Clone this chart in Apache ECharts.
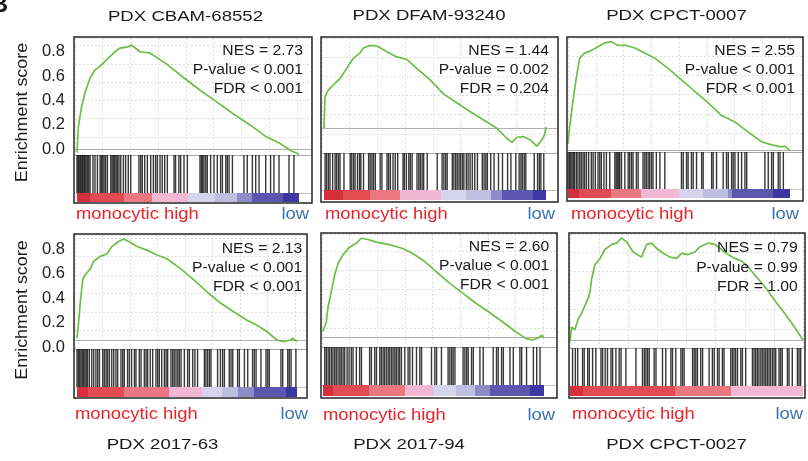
<!DOCTYPE html>
<html><head><meta charset="utf-8">
<script src="https://cdn.jsdelivr.net/npm/echarts/dist/echarts.min.js"></script>
<style>html,body{margin:0;padding:0;background:#fff}#chart{width:808px;height:461px}</style>
</head><body><div id="chart"></div>
<script>
// ---------------- DATA ----------------
const panelTitles = ['PDX CBAM-68552', 'PDX DFAM-93240', 'PDX CPCT-0007', 'PDX 2017-63', 'PDX 2017-94', 'PDX CPCT-0027'];
const nesText = ['NES = 2.73', 'NES = 1.44', 'NES = 2.55', 'NES = 2.13', 'NES = 2.60', 'NES = 0.79'];
const pText = ['P-value < 0.001', 'P-value = 0.002', 'P-value < 0.001', 'P-value < 0.001', 'P-value < 0.001', 'P-value = 0.99'];
const fdrText = ['FDR < 0.001', 'FDR = 0.204', 'FDR < 0.001', 'FDR < 0.001', 'FDR < 0.001', 'FDR = 1.00'];
const esTickLabels = ['0.0', '0.2', '0.4', '0.6', '0.8'];
const yTitle = 'Enrichment score';
const highLabel = 'monocytic high';
const lowLabel = 'low';

// running enrichment score: rank position (% of ranked list) and ES
const rank1 = [0, 0.6, 2.1, 3.6, 5.8, 8.1, 10.3, 12.6, 14.8, 17.1, 19.3, 23.1, 24.6, 28.3, 32.8, 40.3, 47.8, 55.3, 62.8, 70.3, 77.8, 85.3, 91.3, 95.8, 100];
const es1 = [-0.03, 0.18, 0.35, 0.46, 0.58, 0.65, 0.68, 0.72, 0.76, 0.80, 0.83, 0.84, 0.855, 0.80, 0.79, 0.70, 0.59, 0.485, 0.39, 0.29, 0.20, 0.10, 0.047, -0.008, -0.044];
const rank2 = [0, 0.45, 1.95, 4.2, 7.2, 8.7, 10.2, 11.7, 13.2, 16.2, 17.7, 20, 22.3, 24.5, 28.3, 32.8, 37.3, 41.8, 47.8, 53.8, 59.8, 65.9, 71.9, 77.9, 82.4, 84.7, 86.9, 89.9, 92.9, 95.9, 98.2, 99.4, 100];
const es2 = [0, 0.25, 0.30, 0.34, 0.39, 0.43, 0.47, 0.51, 0.55, 0.59, 0.63, 0.645, 0.65, 0.64, 0.60, 0.56, 0.54, 0.47, 0.38, 0.27, 0.20, 0.13, 0.065, 0, -0.08, -0.11, -0.07, -0.066, -0.09, -0.14, -0.09, -0.05, 0.01];
const rank3 = [0, 0.75, 2.26, 3.76, 5.26, 7.5, 10.5, 13.5, 16.5, 19.5, 22.6, 26.3, 30.1, 34.6, 39.1, 45.1, 51.1, 57.1, 63.2, 69.2, 75.2, 81.2, 87.2, 91.7, 96.2, 97.7, 100];
const es3 = [0.05, 0.18, 0.39, 0.57, 0.72, 0.76, 0.78, 0.81, 0.84, 0.85, 0.82, 0.82, 0.80, 0.76, 0.72, 0.64, 0.55, 0.46, 0.37, 0.27, 0.22, 0.14, 0.065, 0.04, 0.025, 0.03, -0.005];
const rank4 = [0, 0.76, 1.5, 2.7, 3.8, 6.1, 7.6, 10.6, 13.6, 15.9, 18.9, 21.2, 23.5, 27.3, 31.8, 36.4, 40.9, 47, 53, 59.1, 65.2, 71.2, 77.3, 81.8, 86.4, 90.9, 93.9, 97, 98.2, 100];
const es4 = [0.014, 0.15, 0.31, 0.50, 0.53, 0.58, 0.64, 0.68, 0.70, 0.76, 0.80, 0.82, 0.80, 0.76, 0.73, 0.69, 0.66, 0.58, 0.49, 0.39, 0.30, 0.23, 0.16, 0.12, 0.067, 0, -0.014, 0, 0.014, -0.014];
const rank5 = [0, 1.5, 2.26, 3.76, 5.26, 6.77, 9.0, 12.0, 15.0, 17.3, 20.3, 24.1, 30.1, 36.1, 40.6, 45.1, 51.1, 57.1, 63.2, 69.2, 75.2, 81.2, 87.2, 91.7, 94.7, 97.7, 98.5, 100];
const es5 = [0.05, 0.125, 0.24, 0.36, 0.49, 0.58, 0.65, 0.71, 0.74, 0.78, 0.77, 0.75, 0.73, 0.70, 0.66, 0.61, 0.52, 0.43, 0.35, 0.27, 0.20, 0.125, 0.047, -0.005, -0.018, 0, 0.016, 0.008];
const rank6 = [0, 0.7, 2.1, 3.6, 5, 6.4, 7.9, 8.6, 9.3, 10.7, 12.9, 15, 17.9, 20, 22.1, 24.3, 27.1, 30.7, 32.9, 35, 37.1, 40, 42.9, 45.7, 47.9, 50.7, 53.6, 55.7, 59.3, 62.1, 65, 67.9, 70.7, 73.6, 76.4, 79.3, 83.6, 87.9, 92.1, 96.4, 100];
const es6 = [-0.013, 0.10, 0.08, 0.17, 0.21, 0.27, 0.33, 0.38, 0.48, 0.59, 0.64, 0.71, 0.75, 0.76, 0.80, 0.77, 0.69, 0.65, 0.75, 0.76, 0.72, 0.68, 0.65, 0.64, 0.68, 0.67, 0.69, 0.73, 0.76, 0.75, 0.71, 0.67, 0.64, 0.62, 0.575, 0.51, 0.42, 0.31, 0.21, 0.10, 0];

// gene-set hit positions (% of ranked list)
const hits1 = [0, 0.5, 0.9, 1.4, 1.8, 2.3, 2.7, 3.2, 3.6, 4.1, 4.7, 5.3, 5.9, 7.2, 8.1, 9.2, 10.4, 11, 11.6, 12.2, 12.9, 13.7, 15.2, 15.8, 16.4, 17, 17.6, 18.2, 18.9, 19.7, 20.9, 21.9, 23.1, 24.2, 27.9, 28.7, 29.4, 30.5, 31.7, 33.2, 34.4, 35.4, 36.2, 37.4, 38.4, 39.5, 40.7, 43.7, 44.4, 45.9, 46.7, 48.2, 49.7, 55.4, 56, 56.6, 57.2, 58, 58.7, 60.2, 61.7, 63.2, 64.7, 65.5, 67, 67.7, 68.5, 70, 75.2, 76.7, 79, 80.5, 82, 85, 87.2, 88.7, 91, 95.5, 97.7];
const hits2 = [0.5, 1.2, 2, 2.7, 3.9, 5, 5.7, 6.5, 7.2, 9, 11.8, 12.5, 13.3, 14, 15.1, 16, 16.6, 17.8, 20.1, 20.8, 21.6, 22.3, 23.1, 25.3, 26.1, 28.4, 29.1, 29.9, 31.1, 32.1, 33.2, 35.6, 36.2, 37.1, 38.2, 38.9, 39.7, 41.9, 42.7, 43.4, 44.2, 44.9, 46.5, 51, 53.2, 54, 54.8, 55.5, 57.8, 58.5, 59.3, 60, 60.8, 61.5, 62.3, 63, 64.1, 64.9, 65.8, 66.8, 67.9, 69.1, 71.3, 72.1, 72.9, 73.6, 75.1, 76.6, 78.6, 80.4, 82.7, 84.2, 86.4, 87.9, 88.7, 89.4, 90.2, 90.9, 94.7, 96.2, 97, 97.7, 99];
const hits3 = [0, 0.6, 1.2, 1.8, 2.4, 3, 3.8, 4.5, 5.3, 6, 6.8, 7.5, 8.3, 9.3, 10.5, 11.3, 12.3, 13.5, 14.3, 15, 16.2, 17.3, 18.8, 21.1, 21.7, 22.3, 22.9, 23.3, 24.1, 25.6, 27.1, 27.8, 28.6, 29.3, 30.8, 31.6, 33.8, 34.6, 35.3, 36.1, 36.8, 37.6, 38.3, 39.8, 41.4, 43.6, 51.1, 51.9, 53.4, 54.1, 55.6, 56.4, 57.9, 60.2, 60.9, 64.7, 65.4, 66.9, 69.9, 71.4, 72.2, 73.7, 74.4, 75.2, 76.7, 78.2, 79.7, 80.5, 88.7, 90.2, 91.7, 92.5, 94.7, 95.5, 97];
const hits4 = [0, 0.6, 1.2, 1.8, 2.4, 3, 3.6, 4.2, 4.8, 5.6, 6.7, 7.6, 8.6, 9.4, 10.2, 11.7, 12.4, 13.2, 13.9, 14.7, 15.8, 16.7, 17.7, 18.5, 20, 20.8, 21.5, 23, 23.8, 24.8, 26.1, 26.8, 28.3, 29.1, 30.6, 31.4, 32.1, 33.3, 34.4, 35.9, 36.7, 37.4, 38.5, 39.7, 40.5, 41.2, 42.7, 43.5, 44.2, 45, 45.8, 46.5, 47.3, 48.8, 50.3, 51.1, 52.6, 53.6, 54.8, 57.9, 58.6, 59.4, 60.2, 60.9, 63.9, 65.2, 66.2, 67, 69.2, 70, 70.8, 73, 73.8, 76.1, 77.6, 79.8, 80.6, 81.4, 83.6, 85.9, 86.7, 87.4, 92.7, 93.5, 95.8, 96.5, 97.3, 99.5];
const hits5 = [0.8, 1.5, 2.3, 3, 3.8, 4.5, 5.3, 6, 6.8, 7.6, 8.3, 9.1, 9.8, 10.9, 11.8, 12.8, 13.6, 15.1, 16.6, 17.4, 21.1, 21.9, 23.4, 24.2, 25.7, 26.4, 27.2, 27.9, 28.7, 29.5, 30.2, 31, 31.7, 32.5, 33.2, 34, 34.7, 35.5, 37, 38.5, 39.3, 40.5, 42.3, 43.8, 44.6, 49.1, 50.6, 51.4, 53.6, 56.6, 57.4, 58.2, 58.9, 59.7, 63.4, 64.2, 65, 65.7, 67.2, 68, 71, 72.5, 77, 78.5, 79.3, 80.8, 81.6, 84.6, 86.1, 89.1, 89.9, 92.1, 95.2, 96.7, 98.2];
const hits6 = [1.1, 2.3, 3.3, 5.4, 6.1, 7.6, 8.3, 9.7, 11.1, 13.3, 14, 15.1, 16.1, 17.6, 18.3, 19.7, 21.1, 21.9, 24, 28.3, 31.1, 31.9, 32.6, 33.3, 34, 36.1, 36.9, 39.7, 41.1, 43.3, 44, 45.4, 47.6, 48.3, 49, 52.6, 53.3, 54, 54.7, 56.1, 56.9, 59.7, 61.1, 61.9, 63.3, 64, 65.4, 66.1, 69, 69.7, 70.4, 71.1, 71.9, 73.3, 74, 75.4, 78.3, 79, 79.7, 80.4, 81.1, 81.9, 82.6, 83.3, 84, 84.7, 85.4, 86.1, 86.9, 87.6, 88.3, 89.7, 90.4, 91.1, 93.3, 94, 95.4, 97.6, 98.3, 99];

// ranked-list metric bands: [start %, end %, scaled metric]
const metric1 = [[0, 6, 1], [6, 21, 0.8], [21, 34, 0.6], [34, 50, 0.4], [50, 62, -0.2], [62, 72, -0.4], [72, 79, -0.6], [79, 93, -0.8], [93, 100, -1]];
const metric2 = [[0, 8.7, 1], [8.7, 20.8, 0.8], [20.8, 34.4, 0.6], [34.4, 52.5, 0.4], [52.5, 64, -0.2], [64, 75, -0.4], [75, 80, -0.6], [80, 94, -0.8], [94, 100, -1]];
const metric3 = [[0, 5, 1], [5, 19.5, 0.8], [19.5, 33, 0.6], [33, 50, 0.4], [50, 61, -0.2], [61, 72, -0.4], [72, 74, -0.6], [74, 92.5, -0.8], [92.5, 100, -1]];
const metric4 = [[0, 5, 1], [5, 21.5, 0.8], [21.5, 42, 0.6], [42, 57, 0.4], [57, 66, -0.2], [66, 73, -0.4], [73, 80.5, -0.6], [80.5, 95, -0.8], [95, 100, -1]];
const metric5 = [[0, 4.5, 1], [4.5, 21, 0.8], [21, 37, 0.6], [37, 50, 0.4], [50, 60, -0.2], [60, 69, -0.4], [69, 75.5, -0.6], [75.5, 93.5, -0.8], [93.5, 100, -1]];
const metric6 = [[0, 5.4, 1], [5.4, 45, 0.8], [45, 69, 0.6], [69, 100, 0.4]];

const ranks = [rank1, rank2, rank3, rank4, rank5, rank6];
const scores = [es1, es2, es3, es4, es5, es6];
const hits = [hits1, hits2, hits3, hits4, hits5, hits6];
const metrics = [metric1, metric2, metric3, metric4, metric5, metric6];

// ---------------- STYLE / LAYOUT ----------------
// colour scale for the ranked-list metric (lower bound of each band -> colour)
const metricColours = [
  [0.9, '#d4303a'], [0.7, '#e34b53'], [0.5, '#eb7880'], [0.3, '#f1b7d3'], [0.1, '#f4c9e0'],
  [-0.3, '#d6d4ec'], [-0.5, '#c0bee0'], [-0.7, '#8d8bc8'], [-0.9, '#5d56ae'], [-Infinity, '#3d37a1']
];
function metricColour(v) { for (const [lo, c] of metricColours) if (v >= lo) return c; return '#3d37a1'; }

const L = [
  {box: [74, 37, 312, 203], inL: 77, inR: 299, div: 155, barB: 193, colB: 202, zero: 149, S: 121.6},
  {box: [321, 37, 558, 202], inL: 324, inR: 546, div: 153, barB: 190, colB: 200, zero: 128.3, S: 127.5},
  {box: [567, 37, 803, 201], inL: 568, inR: 790, div: 152, barB: 189, colB: 198, zero: 150, S: 127.5},
  {box: [74, 234, 307, 398], inL: 77, inR: 297, div: 349, barB: 387, colB: 397, zero: 340, S: 123.1},
  {box: [321, 233, 557, 398], inL: 323, inR: 544, div: 347, barB: 385, colB: 396, zero: 337.7, S: 127.5},
  {box: [569, 233, 805, 398], inL: 570, inR: 803, div: 348, barB: 386, colB: 396, zero: 340, S: 127.5}
];
const titlePos = [[185.5, 17], [429, 16], [676.5, 16], [162.5, 444.5], [409, 445], [676.5, 445]];
const statPos = [[303, 51], [549, 51], [795, 50.7], [302.3, 249], [549.3, 246.7], [797.7, 248.3]];
const highPos = [[76, 214.5], [325, 214.5], [571, 214.5], [75, 415], [323, 416], [572, 415]];
const lowPos = [[309, 214.5], [555, 214.5], [799, 214.5], [308, 415], [555, 416], [803, 415]];
const labelAxisPos = [[51.7, 149], [249, 347.5]];
const yTitlePos = [[23, 112.5], [23, 310]];

const FONT = '"Liberation Sans", Arial, Helvetica, sans-serif';
const grids = [], xAxes = [], yAxes = [], series = [], graphics = [];

function barcodeItem(params, api) {
  const t = api.coord([api.value(0), 1]);
  const b = api.coord([api.value(0), 0]);
  return {type: 'line', shape: {x1: t[0], y1: t[1], x2: b[0], y2: b[1]},
    style: {stroke: '#000', lineWidth: 1.4, opacity: 0.78}};
}
// one continuous bar per panel; the metric bands become hard-edged gradient stops
function makeColourItem(bands) {
  return function (params, api) {
    const s = api.coord([api.value(0), 1]);
    const e = api.coord([api.value(1), 0]);
    const span = api.value(1) - api.value(0);
    const stops = [];
    bands.forEach(([a, b, v]) => {
      const c = metricColour(v);
      stops.push({offset: (a - api.value(0)) / span, color: c});
      stops.push({offset: (b - api.value(0)) / span, color: c});
    });
    return {type: 'rect', shape: {x: s[0], y: s[1], width: e[0] - s[0], height: e[1] - s[1]},
      style: {fill: {type: 'linear', x: 0, y: 0, x2: 1, y2: 0, colorStops: stops}}};
  };
}
const hiddenAxis = {axisLabel: {show: false}, axisTick: {show: false}};

L.forEach((g, p) => {
  const gl = g.box[0] + 1, gr = g.box[2] - 1, gw = gr - gl;
  const iw = g.inR - g.inL;
  const xMin = -(g.inL - gl) / iw * 100, xMax = 100 + (gr - g.inR) / iw * 100;
  const top = g.box[1] + 1;
  // ES plot
  let gi = grids.length;
  grids.push({left: gl, top: top, width: gw, height: g.div - top, show: false, containLabel: false, outerBoundsMode: 'none'});
  xAxes.push(Object.assign({type: 'value', gridIndex: gi, min: xMin, max: xMax, interval: 12.5,
    axisLine: {show: true, onZero: true, lineStyle: {color: '#b0b0b0', width: 1}},
    splitLine: {show: true, lineStyle: {color: '#dedede', width: 1, type: [2, 2]}}}, hiddenAxis));
  yAxes.push(Object.assign({type: 'value', gridIndex: gi, min: (g.zero - g.div) / g.S, max: (g.zero - top) / g.S, interval: 0.15,
    axisLine: {show: false},
    splitLine: {show: true, lineStyle: {color: '#dedede', width: 1, type: [2, 2]}}}, hiddenAxis));
  series.push({type: 'line', xAxisIndex: gi, yAxisIndex: gi, data: ranks[p].map((r, i) => [r, scores[p][i]]),
    symbol: 'none', showSymbol: false, lineStyle: {color: '#6cbf45', width: 1.7}, z: 5, silent: true});
  // barcode
  gi = grids.length;
  grids.push({left: gl, top: g.div, width: gw, height: g.barB - g.div, show: false, containLabel: false, outerBoundsMode: 'none'});
  xAxes.push(Object.assign({type: 'value', gridIndex: gi, min: xMin, max: xMax, position: 'top',
    axisLine: {show: true, onZero: false, lineStyle: {color: '#a8a8a8', width: 1}}, splitLine: {show: false}}, hiddenAxis));
  yAxes.push({type: 'value', gridIndex: gi, min: 0, max: 1, show: false});
  series.push({type: 'custom', xAxisIndex: gi, yAxisIndex: gi, data: hits[p].map(h => [h, 0.5]), renderItem: barcodeItem, silent: true, z: 3});
  // metric colour bar
  gi = grids.length;
  grids.push({left: gl, top: g.barB, width: gw, height: g.colB - g.barB, show: false, containLabel: false, outerBoundsMode: 'none'});
  xAxes.push(Object.assign({type: 'value', gridIndex: gi, min: xMin, max: xMax, position: 'top',
    axisLine: {show: true, onZero: false, lineStyle: {color: '#c4c4c4', width: 1}}, splitLine: {show: false}}, hiddenAxis));
  yAxes.push({type: 'value', gridIndex: gi, min: 0, max: 1, show: false});
  const bands = metrics[p];
  series.push({type: 'custom', xAxisIndex: gi, yAxisIndex: gi,
    data: [[bands[0][0], bands[bands.length - 1][1]]], renderItem: makeColourItem(bands),
    encode: {x: [0, 1]}, silent: true, z: 2});
  // box
  graphics.push({type: 'rect', z: 100, shape: {x: g.box[0], y: g.box[1], width: g.box[2] - g.box[0], height: g.box[3] - g.box[1]},
    style: {fill: 'none', stroke: '#262626', lineWidth: 1.5}});
});

// y tick label axes for left column
labelAxisPos.forEach(([t, b]) => {
  const gi = grids.length;
  grids.push({left: 74, top: t, width: 20, height: b - t, show: false, containLabel: false, outerBoundsMode: 'none'});
  xAxes.push({type: 'value', gridIndex: gi, show: false});
  yAxes.push({type: 'category', gridIndex: gi, data: esTickLabels, boundaryGap: false,
    axisLine: {show: false}, axisTick: {show: false}, splitLine: {show: false},
    axisLabel: {show: true, interval: 0, margin: 9, fontSize: 16.5, color: '#1e1e1e', fontFamily: FONT}});
});

function txt(text, x, y, o) {
  return {type: 'text', x: x, y: y, z: 101, scaleX: o.sx || 1, scaleY: 1, rotation: o.rot || 0,
    style: {text: text, fontSize: o.fs, fontFamily: FONT, fontWeight: o.bold ? 'bold' : 'normal', fill: o.color || '#1a1a1a',
      textAlign: o.align || 'center', textVerticalAlign: 'middle', align: o.align || 'center', verticalAlign: 'middle'}};
}
panelTitles.forEach((t, p) => graphics.push(txt(t, titlePos[p][0], titlePos[p][1], {fs: 15.5, sx: 1.2})));
L.forEach((g, p) => {
  const [rx, y0] = statPos[p];
  graphics.push(txt(nesText[p], rx, y0, {fs: 14, sx: 1.12, align: 'right'}));
  graphics.push(txt(pText[p], rx, y0 + 19.4, {fs: 14, sx: 1.12, align: 'right'}));
  graphics.push(txt(fdrText[p], rx, y0 + 38.6, {fs: 14, sx: 1.12, align: 'right'}));
  graphics.push(txt(highLabel, highPos[p][0], highPos[p][1], {fs: 16, sx: 1.15, align: 'left', color: '#e8232b'}));
  graphics.push(txt(lowLabel, lowPos[p][0], lowPos[p][1], {fs: 16, sx: 1.15, align: 'right', color: '#3d72b0'}));
});
yTitlePos.forEach(([x, y]) => graphics.push(txt(yTitle, x, y, {fs: 16, sx: 1.12, rot: Math.PI / 2})));
graphics.push(txt('B', 8, 5.5, {fs: 24, bold: true, align: 'right', color: '#111'}));

const chart = echarts.init(document.getElementById('chart'), null, {renderer: 'canvas'});
chart.setOption({
  animation: false,
  backgroundColor: '#ffffff',
  textStyle: {fontFamily: FONT},
  grid: grids, xAxis: xAxes, yAxis: yAxes, series: series,
  graphic: {elements: graphics}
});
</script></body></html>
